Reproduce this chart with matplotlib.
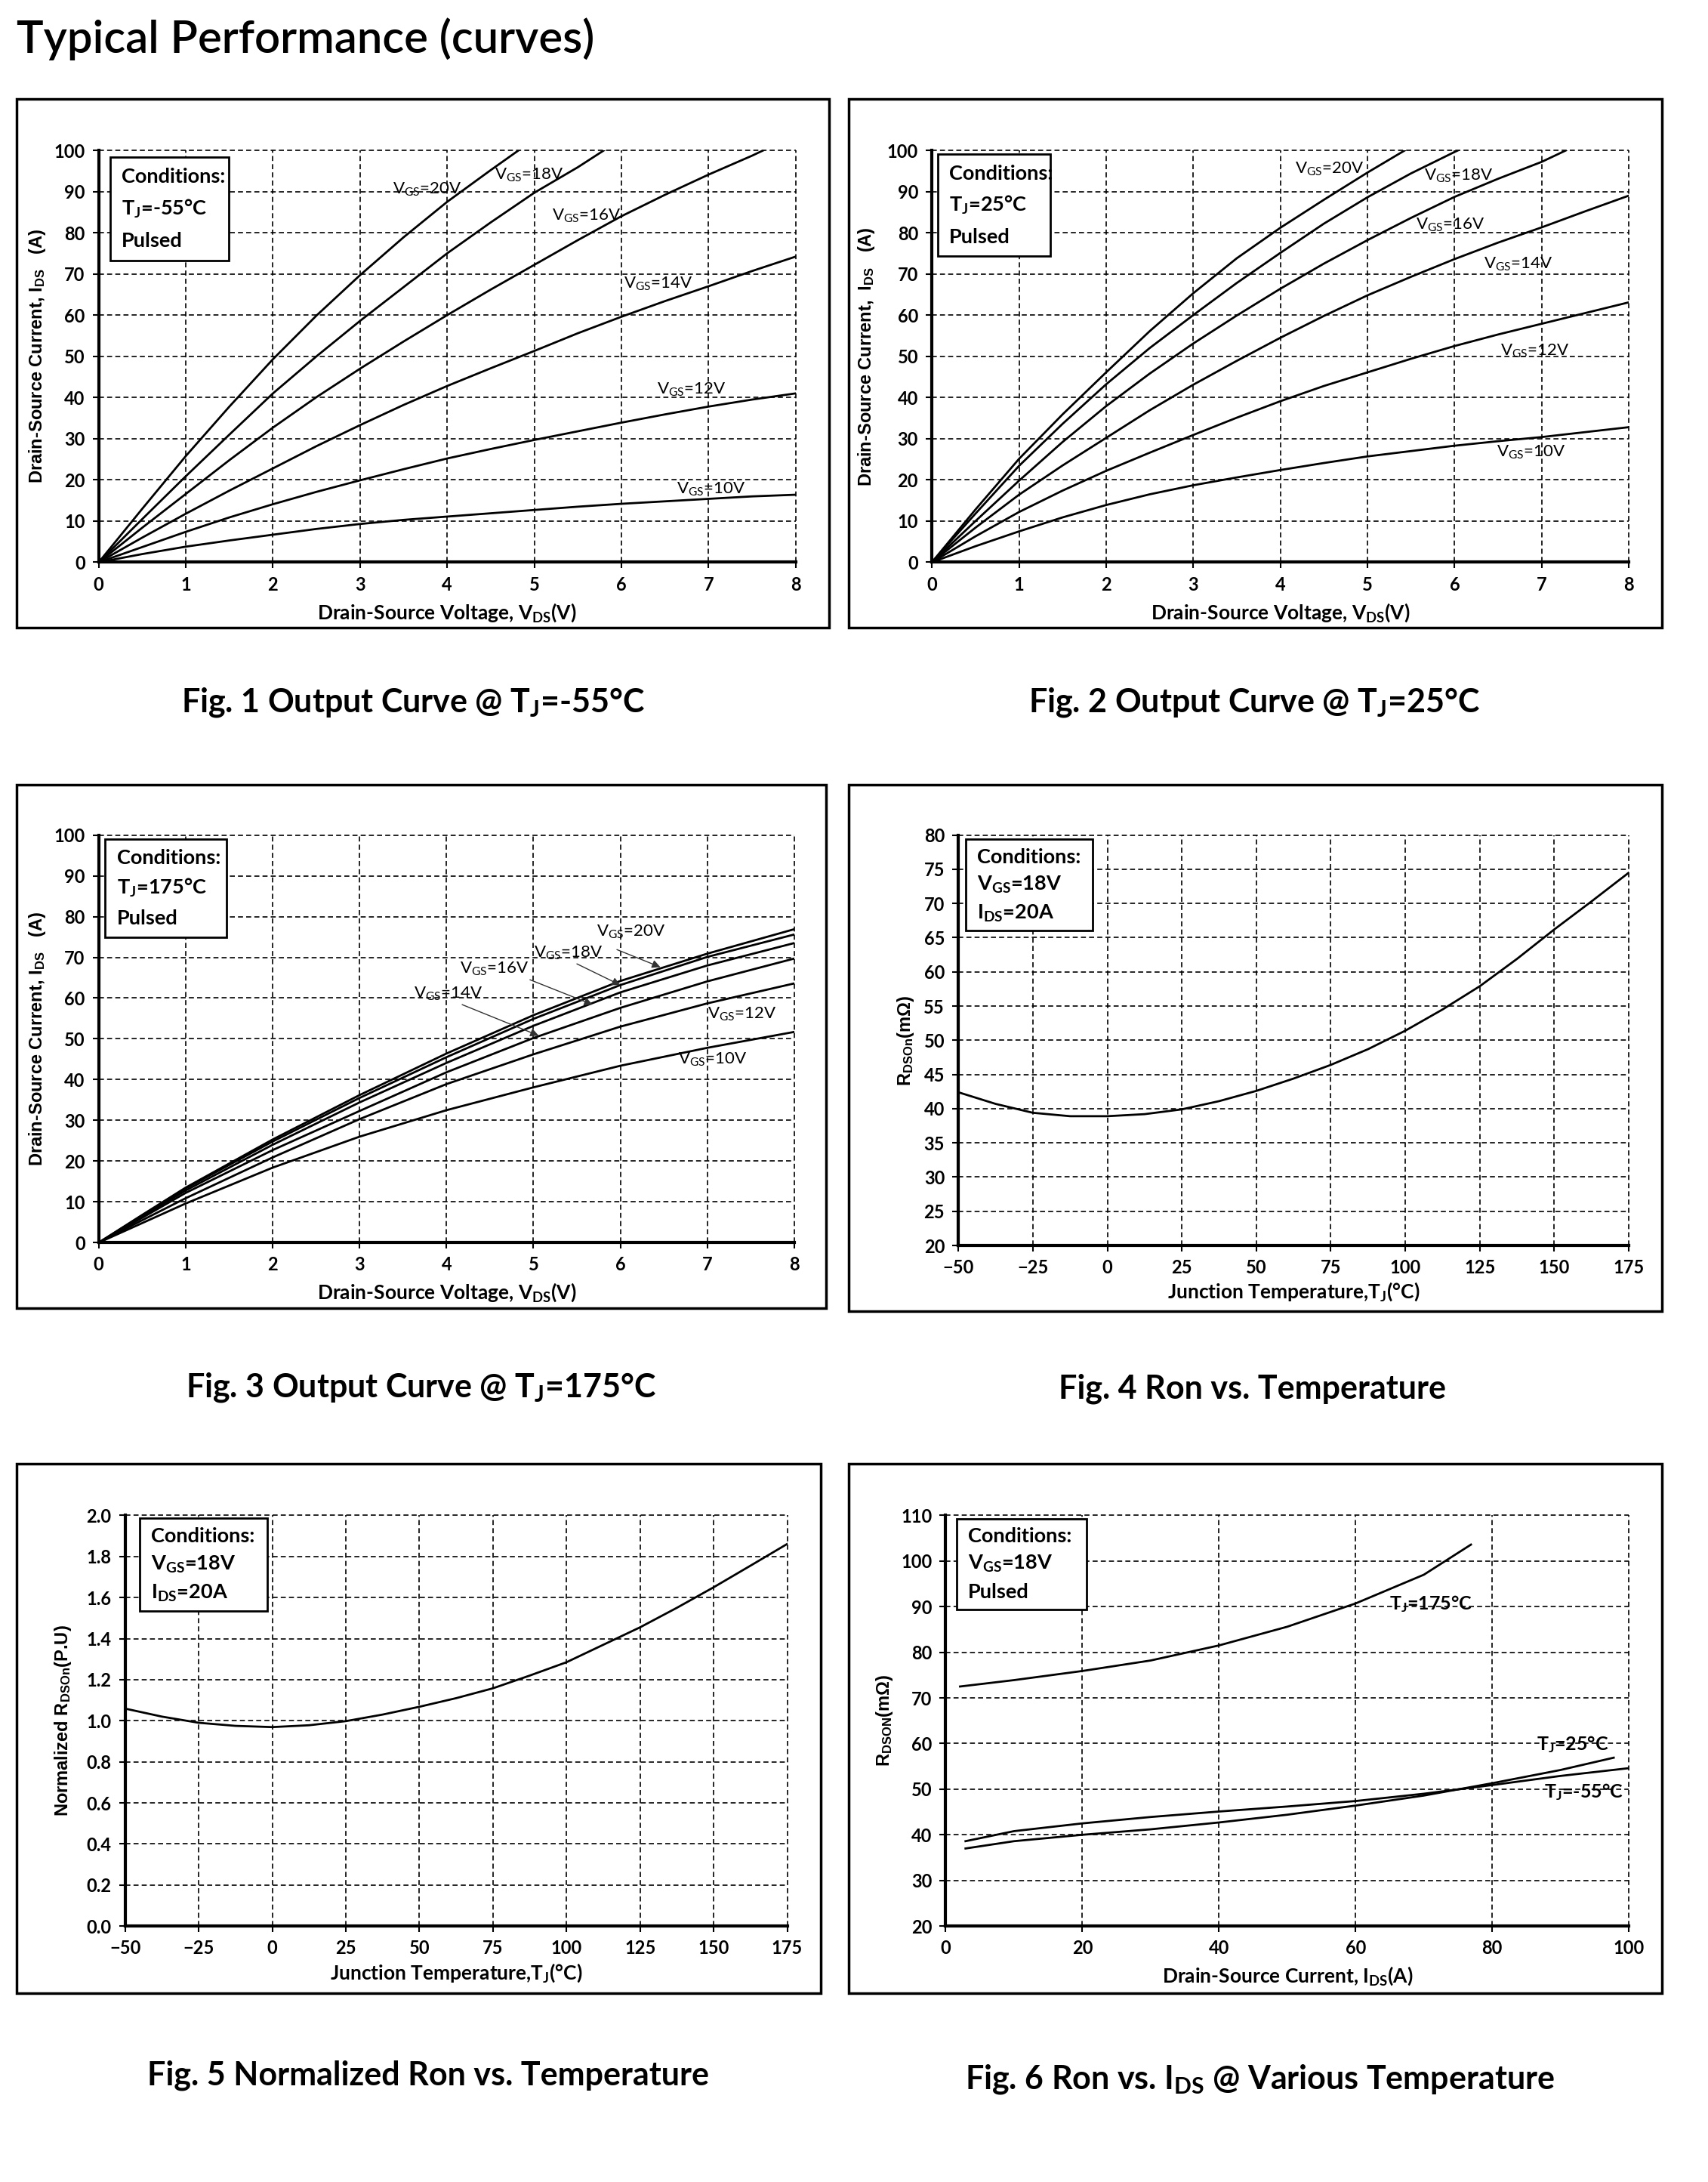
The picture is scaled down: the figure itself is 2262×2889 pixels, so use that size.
import matplotlib
matplotlib.use('Agg')
import matplotlib.pyplot as plt
from matplotlib.patches import Rectangle

plt.rcParams['font.family'] = ['Lato', 'DejaVu Sans']

# ---- Fig 1: output curve @ Tj=-55C ----
vds = [0, 0.5, 1, 1.5, 2, 2.5, 3, 3.5, 4, 4.5, 5, 5.5, 6, 6.5, 7, 7.5, 8]
m55_v20_x = [0, 0.5, 1, 1.5, 2, 2.5, 3, 3.5, 4, 4.5, 4.82]
m55_v20_y = [0, 13, 25.8, 37.8, 49.3, 59.9, 69.7, 78.9, 87.5, 95.2, 100]
m55_v18_x = [0, 0.5, 1, 1.5, 2, 2.5, 3, 3.5, 4, 4.5, 5, 5.5, 5.8]
m55_v18_y = [0, 10.5, 20.9, 31, 41, 50, 58.6, 66.8, 75, 82.5, 89.7, 95.9, 100]
m55_v16_x = [0, 0.5, 1, 1.5, 2, 2.5, 3, 3.5, 4, 4.5, 5, 5.5, 6, 6.5, 7, 7.5, 7.63]
m55_v16_y = [0, 8.4, 16.6, 24.8, 32.7, 40.1, 47, 53.6, 60, 66.2, 72.2, 78.2, 84,
             89.2, 94.1, 98.7, 100]
m55_v14_y = [0, 6, 11.8, 17.4, 22.8, 28.2, 33.3, 38.2, 42.8, 47.1, 51.3, 55.6, 59.6,
             63.4, 67, 70.7, 74.2]
m55_v12_y = [0, 3.7, 7.4, 10.9, 14.1, 17.1, 19.9, 22.6, 25.2, 27.5, 29.7, 31.8, 33.9,
             35.9, 37.8, 39.5, 41]
m55_v10_y = [0, 2, 3.8, 5.3, 6.7, 8.1, 9.3, 10.3, 11.1, 11.9, 12.7, 13.5, 14.2, 14.8,
             15.4, 16, 16.4]

# ---- Fig 2: output curve @ Tj=25C ----
t25_v20_x = [0, 0.5, 1, 1.5, 2, 2.5, 3, 3.5, 4, 4.5, 5, 5.43]
t25_v20_y = [0, 12.8, 25.1, 35.9, 46.1, 56.1, 65.3, 73.8, 81.2, 88, 94.6, 100]
t25_v18_x = [0, 0.5, 1, 1.5, 2, 2.5, 3, 3.5, 4, 4.5, 5, 5.5, 6, 6.04]
t25_v18_y = [0, 11.8, 23.4, 33.6, 43.2, 52, 60, 67.8, 75.1, 82.2, 88.6, 94.4, 99.6, 100]
t25_v16_x = [0, 0.5, 1, 1.5, 2, 2.5, 3, 3.5, 4, 4.5, 5, 5.5, 6, 6.5, 7, 7.28]
t25_v16_y = [0, 10, 19.8, 29.2, 37.9, 45.8, 53.1, 59.9, 66.4, 72.5, 78.2, 83.6, 88.7,
             93.1, 97.2, 100]
t25_v14_y = [0, 8.4, 16.4, 23.5, 30.2, 36.9, 43.1, 48.9, 54.5, 59.8, 64.8, 69.3, 73.6,
             77.6, 81.3, 85.2, 89]
t25_v12_y = [0, 6.3, 12.2, 17.4, 22.2, 26.6, 30.9, 35.1, 39.1, 42.8, 46.1, 49.4, 52.5,
             55.3, 57.9, 60.5, 63.1]
t25_v10_y = [0, 3.9, 7.5, 10.9, 13.9, 16.5, 18.7, 20.6, 22.4, 24.1, 25.7, 27, 28.3,
             29.4, 30.4, 31.6, 32.8]

# ---- Fig 3: output curve @ Tj=175C ----
vds_hot = [0, 0.5, 1, 2, 3, 4, 5, 6, 7, 8]
t175_v20_y = [0, 6.8, 13.5, 25.3, 36.2, 46.4, 55.8, 64.2, 70.9, 76.9]
t175_v18_y = [0, 6.7, 13.3, 24.8, 35.5, 45.5, 54.9, 63.2, 70.1, 75.6]
t175_v16_y = [0, 6.4, 12.8, 24, 34.4, 44.1, 53.2, 61.4, 68, 73.5]
t175_v14_y = [0, 6.1, 12.2, 22.7, 32.3, 41.8, 50.2, 57.6, 64.1, 69.7]
t175_v12_y = [0, 5.5, 10.9, 20.9, 30.3, 38.9, 46.2, 53, 58.7, 63.6]
t175_v10_y = [0, 4.8, 9.6, 18.4, 26, 32.5, 38.1, 43.4, 47.8, 51.7]

# ---- Fig 4 / 5: Ron vs temperature ----
temps = [-50, -37.5, -25, -12.5, 0, 12.5, 25, 37.5, 50, 62.5, 75, 87.5,
         100, 112.5, 125, 137.5, 150, 162.5, 175]
rdson = [42.4, 40.7, 39.4, 38.9, 38.9, 39.2, 39.9, 41.1, 42.6, 44.4, 46.4,
         48.7, 51.4, 54.5, 57.9, 61.9, 66.2, 70.3, 74.5]
rdson_norm = [1.059, 1.02, 0.99, 0.975, 0.969, 0.978, 0.998, 1.03, 1.068,
              1.11, 1.158, 1.22, 1.285, 1.37, 1.455, 1.55, 1.65, 1.755, 1.861]

# ---- Fig 6: Ron vs Ids ----
ids_175 = [2.1, 10, 20, 30, 40, 50, 60, 70, 76.9]
ron_175 = [72.5, 73.9, 75.9, 78.2, 81.5, 85.6, 90.7, 97, 103.6]
ids_25 = [2.9, 10, 20, 30, 40, 50, 60, 70, 80, 90, 97.8]
ron_25 = [37, 38.6, 40, 41.2, 42.7, 44.4, 46.4, 48.6, 51.3, 54.2, 56.9]
ids_m55 = [2.9, 10, 20, 30, 40, 50, 60, 70, 80, 90, 100]
ron_m55 = [38.6, 40.8, 42.5, 43.9, 45.1, 46.2, 47.4, 49, 50.9, 52.9, 54.6]

GS = r'V$\mathregular{_{GS}}$'
TJ = r'T$\mathregular{_J}$'
YFONT = ['Liberation Sans', 'DejaVu Sans']
LW = 2.0


def style_axes(ax, xlim, ylim, xticks, yticks, xlabel, ylabel, xl_y, yl_x, yfmt=None):
    ax.set_xlim(xlim)
    ax.set_ylim(ylim)
    ax.set_xticks(xticks)
    ax.set_yticks(yticks)
    if yfmt:
        ax.set_yticklabels([yfmt % v for v in yticks])
    ax.grid(True, color='black', linestyle=(0, (4, 2.5)), linewidth=1.2)
    for ln in ax.get_xgridlines() + ax.get_ygridlines():
        ln.set_clip_on(False)
    for s in ['top', 'right']:
        ax.spines[s].set_visible(False)
    for s in ['left', 'bottom']:
        ax.spines[s].set_linewidth(3)
        ax.spines[s].set_zorder(4)
    ax.tick_params(direction='out', length=6, width=1.5, labelsize=17, pad=7)
    for lbl in ax.get_xticklabels() + ax.get_yticklabels():
        lbl.set_fontweight('bold')
    ax.set_xlabel(xlabel, fontsize=19, fontweight='bold')
    ax.xaxis.label.set_va('center')
    ax.xaxis.set_label_coords(0.5, xl_y)
    ax.set_ylabel(ylabel, fontsize=17, fontweight='bold', family=YFONT)
    ax.yaxis.label.set_va('center')
    ax.yaxis.set_label_coords(yl_x, 0.5)


def conditions(ax, box, lines):
    x0, y0, x1, y1 = box
    h = y1 - y0
    ax.add_patch(Rectangle((x0, y0), x1 - x0, h, transform=ax.transAxes,
                           fc='white', ec='black', lw=2, zorder=5, clip_on=False))
    for t, f in zip(lines, [0.195, 0.5, 0.81]):
        ax.text(x0 + 0.017, y1 - f * h, t, transform=ax.transAxes, fontsize=19.5,
                fontweight='bold', va='center', zorder=6)


def frame(fig, x0, y0, x1, y1):
    fig.add_artist(Rectangle((x0, y0), x1 - x0, y1 - y0, transform=fig.transFigure,
                             fill=False, ec='black', lw=2.5))


def caption(fig, x, y, text):
    fig.text(x, y, text, fontsize=31, fontweight='bold', ha='center', va='center')


fig = plt.figure(figsize=(22.62, 28.89), dpi=100)
fig.text(0.0098, 0.982, 'Typical Performance (curves)', fontsize=43,
         fontweight='semibold', va='center', ha='left')

vds_label = r'Drain-Source Voltage, V$\mathregular{_{DS}}$(V)'
tj_label = r'Junction Temperature,T$\mathregular{_J}$(°C)'

# Fig 1
frame(fig, 0.0098, 0.7124, 0.4853, 0.9547)
ax1 = fig.add_axes([0.0578, 0.7423, 0.408, 0.1888])
ax1.plot(m55_v20_x, m55_v20_y, color='black', lw=LW)
ax1.plot(m55_v18_x, m55_v18_y, color='black', lw=LW)
ax1.plot(m55_v16_x, m55_v16_y, color='black', lw=LW)
ax1.plot(vds, m55_v14_y, color='black', lw=LW)
ax1.plot(vds, m55_v12_y, color='black', lw=LW)
ax1.plot(vds, m55_v10_y, color='black', lw=LW)
style_axes(ax1, (0, 8), (0, 100), range(0, 9), range(0, 101, 10), vds_label,
           r'Drain-Source Current, I$\mathregular{_{DS}}$   (A)', -0.122, -0.088)
for x, y, v in [(3.77, 90.5, 20), (4.94, 94, 18), (5.6, 84, 16), (6.42, 67.5, 14),
                (6.8, 42, 12), (7.03, 17.8, 10)]:
    ax1.text(x, y, GS + '=%dV' % v, fontsize=16, ha='center', va='center')
conditions(ax1, (0.016, 0.733, 0.187, 0.984), ['Conditions:', TJ + '=-55°C', 'Pulsed'])
caption(fig, 0.242, 0.678, 'Fig. 1 Output Curve @ ' + TJ + '=-55°C')

# Fig 2
frame(fig, 0.4967, 0.7124, 0.9731, 0.9547)
ax2 = fig.add_axes([0.5456, 0.7423, 0.408, 0.1888])
ax2.plot(t25_v20_x, t25_v20_y, color='black', lw=LW)
ax2.plot(t25_v18_x, t25_v18_y, color='black', lw=LW)
ax2.plot(t25_v16_x, t25_v16_y, color='black', lw=LW)
ax2.plot(vds, t25_v14_y, color='black', lw=LW)
ax2.plot(vds, t25_v12_y, color='black', lw=LW)
ax2.plot(vds, t25_v10_y, color='black', lw=LW)
style_axes(ax2, (0, 8), (0, 100), range(0, 9), range(0, 101, 10), vds_label,
           r'Drain-Source Current,  I$\mathregular{_{DS}}$   (A)', -0.122, -0.094)
for x, y, v in [(4.56, 95.5, 20), (6.05, 93.8, 18), (5.95, 81.8, 16), (6.73, 72.3, 14),
                (6.92, 51.3, 12), (6.88, 26.7, 10)]:
    ax2.text(x, y, GS + '=%dV' % v, fontsize=16, ha='center', va='center')
conditions(ax2, (0.008, 0.743, 0.17, 0.991), ['Conditions:', TJ + '=25°C', 'Pulsed'])
caption(fig, 0.7345, 0.678, 'Fig. 2 Output Curve @ ' + TJ + '=25°C')

# Fig 3
frame(fig, 0.0098, 0.4005, 0.4837, 0.6403)
ax3 = fig.add_axes([0.0578, 0.4305, 0.4072, 0.1868])
for ys in [t175_v20_y, t175_v18_y, t175_v16_y, t175_v14_y, t175_v12_y, t175_v10_y]:
    ax3.plot(vds_hot, ys, color='black', lw=LW)
style_axes(ax3, (0, 8), (0, 100), range(0, 9), range(0, 101, 10), vds_label,
           r'Drain-Source Current, I$\mathregular{_{DS}}$   (A)', -0.123, -0.088)
for x, y, v, tail, head in [(6.12, 76.3, 20, (5.96, 71.9), (6.46, 67.6)),
                            (5.4, 71, 18, (5.5, 68.4), (6.0, 63.2)),
                            (4.55, 67.1, 16, (4.96, 64.5), (5.68, 58.4)),
                            (4.02, 61, 14, (4.18, 58.4), (5.06, 50.8))]:
    ax3.text(x, y, GS + '=%dV' % v, fontsize=16, ha='center', va='center')
    ax3.annotate('', xy=head, xytext=tail,
                 arrowprops=dict(arrowstyle='-|>', color='#333333', lw=1.0,
                                 mutation_scale=16, shrinkA=0, shrinkB=0))
ax3.text(7.4, 56, GS + '=12V', fontsize=16, ha='center', va='center')
ax3.text(7.06, 44.9, GS + '=10V', fontsize=16, ha='center', va='center')
conditions(ax3, (0.009, 0.75, 0.184, 0.99), ['Conditions:', TJ + '=175°C', 'Pulsed'])
caption(fig, 0.2467, 0.3642, 'Fig. 3 Output Curve @ ' + TJ + '=175°C')

# Fig 4
frame(fig, 0.4967, 0.3992, 0.9731, 0.6403)
ax4 = fig.add_axes([0.5611, 0.4292, 0.3925, 0.1881])
ax4.plot(temps, rdson, color='black', lw=LW)
style_axes(ax4, (-50, 175), (20, 80), range(-50, 176, 25), range(20, 81, 5),
           tj_label, r'R$\mathregular{_{DSOn}}$(mΩ)', -0.112, -0.079)
conditions(ax4, (0.011, 0.767, 0.2, 0.99),
           ['Conditions:', GS + '=18V', r'I$\mathregular{_{DS}}$=20A'])
caption(fig, 0.733, 0.3635, 'Fig. 4 Ron vs. Temperature')

# Fig 5
frame(fig, 0.0098, 0.0867, 0.4805, 0.3291)
ax5 = fig.add_axes([0.0733, 0.1173, 0.3876, 0.1882])
ax5.plot(temps, rdson_norm, color='black', lw=LW)
yt5 = [0.0, 0.2, 0.4, 0.6, 0.8, 1.0, 1.2, 1.4, 1.6, 1.8, 2.0]
style_axes(ax5, (-50, 175), (0, 2.0), range(-50, 176, 25), yt5,
           tj_label, r'Normalized R$\mathregular{_{DSOn}}$(P.U)', -0.115, -0.094, yfmt='%.1f')
conditions(ax5, (0.022, 0.767, 0.215, 0.993),
           ['Conditions:', GS + '=18V', r'I$\mathregular{_{DS}}$=20A'])
caption(fig, 0.2508, 0.049, 'Fig. 5 Normalized Ron vs. Temperature')

# Fig 6
frame(fig, 0.4967, 0.0867, 0.9731, 0.3291)
ax6 = fig.add_axes([0.5537, 0.1173, 0.3999, 0.1882])
ax6.plot(ids_175, ron_175, color='black', lw=LW)
ax6.plot(ids_25, ron_25, color='black', lw=LW)
ax6.plot(ids_m55, ron_m55, color='black', lw=LW)
style_axes(ax6, (0, 100), (20, 110), range(0, 101, 20), range(20, 111, 10),
           r'Drain-Source Current, I$\mathregular{_{DS}}$(A)',
           r'R$\mathregular{_{DSON}}$(mΩ)', -0.122, -0.089)
ax6.text(71, 90.6, TJ + '=175°C', fontsize=18, fontweight='bold', ha='center', va='center')
ax6.text(91.8, 59.9, TJ + '=25°C', fontsize=18, fontweight='bold', ha='center', va='center')
ax6.text(93.4, 49.4, TJ + '=-55°C', fontsize=18, fontweight='bold', ha='center', va='center')
conditions(ax6, (0.016, 0.771, 0.206, 0.992), ['Conditions:', GS + '=18V', 'Pulsed'])
caption(fig, 0.7378, 0.0472, r'Fig. 6 Ron vs. I$\mathregular{_{DS}}$ @ Various Temperature')

fig.savefig('out.png', dpi=100)
